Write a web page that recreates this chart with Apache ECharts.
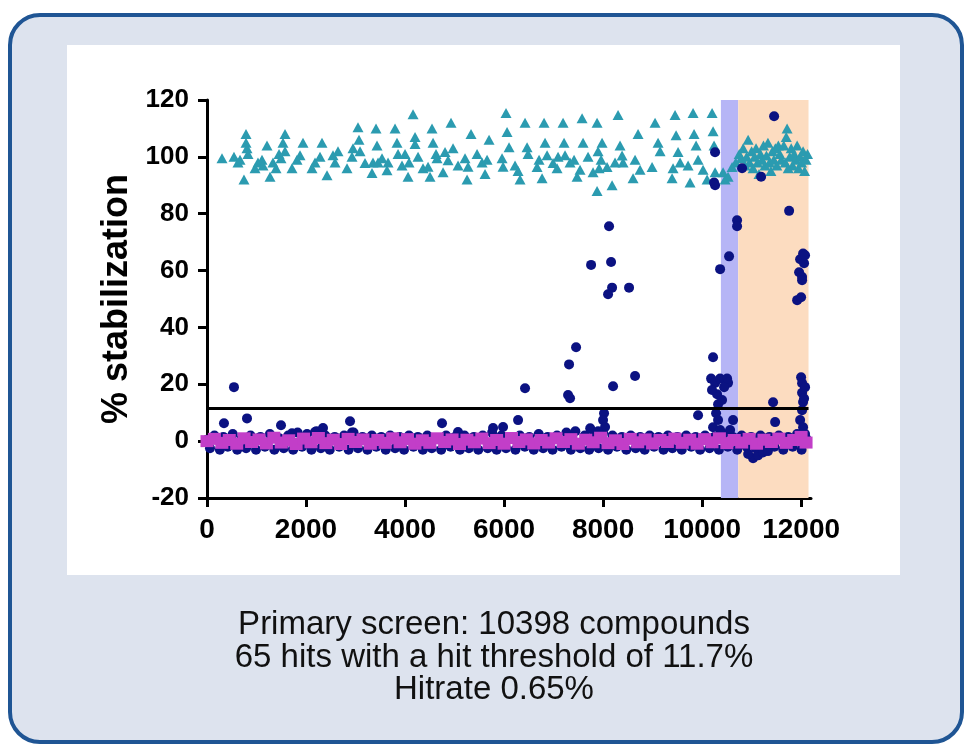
<!DOCTYPE html>
<html>
<head>
<meta charset="utf-8">
<script src="https://cdn.jsdelivr.net/npm/echarts@6/dist/echarts.min.js"></script>
<style>
  html, body { margin: 0; padding: 0; background: #ffffff; }
  #chart { width: 964px; height: 746px; }
</style>
</head>
<body>
<div id="chart"></div>
<script>
// x ticks / y range
var xTicks = [0, 2000, 4000, 6000, 8000, 10000, 12000];
var threshold = 11.7;
var blueBand = [10380, 10730];
var orangeBand = [10730, 12150];

// positive controls (~100 %)
var controls100 = [
  [303,99.5],[545,100],[626,98],[667,99],[747,92],[788,108],[788,105],[808,103],[828,101],[970,96],
  [1030,98],[1111,99],[1131,97],[1212,104],[1273,93],[1333,98],[1394,96],[1455,101],[1495,99.5],[1535,105],
  [1576,108],[1576,102],[1717,96],[1818,99],[1879,100.6],[1939,105],[2121,96],[2182,98],[2283,100],[2323,105],
  [2424,93.5],[2545,100.6],[2586,98],[2646,102],[2828,96],[2929,100],[2949,103],[3050,110.4],[3070,106],[3091,102],
  [3192,97.8],[3333,94.3],[3353,98],[3414,110],[3434,104],[3455,98],[3535,99.5],[3636,95.3],[3657,98],[3798,110],
  [3838,105],[3859,101],[3939,97],
  [4000,101],[4061,93],[4081,98],[4162,115],[4202,107],[4202,104.5],[4263,100],[4364,96],[4465,96.5],[4505,93],
  [4545,110],[4566,105],[4626,101],[4646,99.5],[4768,94.6],[4808,101.7],[4869,98.8],[4929,112],[4970,103],[5071,97],
  [5212,99.5],[5253,92],[5273,96.5],[5333,108],[5455,101],[5556,98],[5616,94],[5657,99],[5697,106],[5960,99.5],
  [5980,96.5],[6040,115.4],[6061,108.7],[6101,103.4],[6222,97],[6283,95],[6323,92],[6424,112],[6465,103.4],[6485,101],
  [6667,96.4],[6707,99],[6768,92.5],[6808,112],[6828,105],[6869,100.6],[6990,97.8],[7071,96],[7091,100],[7192,112],
  [7212,105],[7232,100.6],[7333,98],[7414,99],[7475,93],[7535,95.5],[7576,113.6],[7596,105],[7697,100],[7798,94.6],
  [7879,112],[7899,102],[7879,88],
  [7980,105],[7960,99],[7920,96],[8081,96.4],[8182,90],[8242,98],[8303,114.7],[8343,104],[8384,100.5],[8404,98],
  [8606,92.5],[8646,99],[8707,108],[8747,95.5],[8990,96.4],[9050,112],[9111,105],[9152,102],[9394,92.5],[9414,96],
  [9454,114.7],[9475,107.6],[9515,101.7],[9556,98],[9717,97],[9757,91],[9818,115.4],[9838,108],[9879,104],[9919,99],
  [10020,95.5],[10101,92],[10202,115.4],[10222,109],[10242,104],[10263,94.6],
  [10424,94.6],[10465,92],[10525,93],[10606,96.4],[10680,98],
  [10750,101],[10790,99.5],[10830,103],[10870,97],[10900,100],[10930,106],[10960,98],[11000,102],[11030,96],[11060,100],
  [11090,103],[11120,98],[11150,94],[11180,101],[11210,99],[11240,104],[11270,97],[11300,100.5],[11330,105],[11360,98],
  [11390,95],[11420,102],[11450,99],[11480,103],[11510,97],[11540,104],[11570,101],[11600,99],[11650,104],[11680,98],
  [11700,107],[11717,110],[11740,96],[11770,100],[11800,103],[11830,97],[11860,101],[11890,99],[11920,104],[11950,96],
  [11980,100],[12010,98],[12040,102],[12070,95],[12100,99],[12130,101]
];

// compounds: outliers and hits
var compoundHits = [
  [545,19],[343,6.3],[808,8],[1495,5.6],[1717,2.8],[2182,3.2],[2343,4.6],[2889,7],[2929,3],[4747,6.3],
  [5070,3.2],[5778,4.6],[5980,5],[6283,7.4],[6424,18.6],[7293,16.2],[7333,15.1],[7313,27],[7455,33],[7758,62],
  [8121,75.6],[8162,63],[8182,54],[8101,51.7],[8525,54],[8202,19.3],[8646,22.9],[8020,9.8],[8000,7.4],[8040,5],
  [7740,4.5],[7900,3.5],[9919,9.1],[11434,13.7],[11475,6.7],[11030,-6],[11130,-5],[11230,-4],[10930,-4.5],[11330,-3.5],
  [10222,29.5],[10182,22],[10263,20.5],[10364,22],[10505,22],[10525,20.5],[10303,16.5],[10323,13],[10283,9.8],[10222,4.9],
  [10364,3.9],[10566,3.9],[10626,7.4],[10323,7.4],[10404,14.5],[10200,18],[10445,19],
  [10262,101.6],[10242,91],[10263,90],[10364,60.5],[10545,65],[10707,77.7],[10707,75.6],[10808,96],[11192,93],
  [11455,114.3],[11758,81],
  [12040,66],[11980,64],[11960,59.4],[12020,57.7],[11920,49.6],[12000,50.6],[12020,56.6],[12060,62.6],[12080,65.4],
  [12000,22.5],[12020,20.4],[12020,17],[12040,13.8],[12020,10.9],[11980,7.4],[12040,4.9],[12080,2.5],[12060,15],[12080,19]
];

// compounds: inactive, near zero
var compoundBase = [
  [0,0.5],[60,-2.5],[150,2],[260,-3],[330,1.5],[420,-2],[520,2.5],[610,-3],[700,1],[790,-2.5],
  [880,2],[990,-3],[1080,1.5],[1170,-2],[1270,2.5],[1360,-3],[1460,1],[1550,-2.5],[1640,2],[1740,-3],
  [1830,3],[1920,-2],[2020,2.5],[2110,-3],[2210,3.5],[2300,-2.5],[2390,2],[2480,-3],[2580,1.5],[2670,-2],
  [2770,2],[2860,-3],[2960,3],[3050,-2.5],[3140,1.5],[3240,-3],[3330,2],[3420,-2],[3520,1.5],[3610,-3],
  [3700,2],[3800,-2.5],[3890,1.5],[3980,-3],[4080,2],[4170,-2],[4260,1.5],[4360,-3],[4450,2],[4540,-2.5],
  [4640,1],[4730,-3],[4830,2],[4920,-2],[5010,1.5],[5110,-3],[5200,2],[5290,-2.5],[5390,1.5],[5480,-3],
  [5570,2],[5670,-2.5],[5760,3],[5850,-3],[5950,2],[6040,-2.5],[6130,1.5],[6230,-3],[6320,2],[6420,-2],
  [6510,1.5],[6600,-3],[6700,2.5],[6790,-2.5],[6880,1.5],[6980,-3],[7070,2],[7160,-2],[7260,3],[7350,-3],
  [7440,3.5],[7540,-2.5],[7630,2],[7720,-3],[7820,2.5],[7910,-2.5],[8000,3],[8100,-3],[8190,2],[8280,-2],
  [8380,1.5],[8470,-3],[8560,2],[8660,-2.5],[8750,1.5],[8840,-3],[8940,2],[9030,-2],[9120,1.5],[9220,-3],
  [9310,2],[9400,-2.5],[9500,1.5],[9590,-3],[9680,2],[9780,-2],[9870,1.5],[9960,-3],[10060,2],[10150,-2.5],
  [10250,1.5],[10340,-3],[10430,2.5],[10520,-2],[10620,1.5],[10710,-3],[10800,2],[10900,-2],[10990,1.5],[11080,-2.5],
  [11180,2],[11270,-3],[11360,1.5],[11460,-2],[11550,2],[11640,-3],[11740,1.5],[11830,-2],[11920,2.5],[12010,-3],
  [12100,1]
];

// negative controls (~0 %)
var controls0 = [
  [0,0],[150,0.8],[300,-0.6],[450,0.4],[600,-0.9],[750,1],[900,-0.3],[1050,0.6],[1200,-0.8],[1350,1.2],
  [1500,-0.5],[1650,0.3],[1800,-1],[1950,0.9],[2100,-0.4],[2250,1.1],[2400,-0.7],[2550,0.5],[2700,-1],[2850,0.8],
  [3000,-0.3],[3150,0.6],[3300,-0.9],[3450,0.4],[3600,-0.6],[3750,1],[3900,-0.4],[4050,0.7],[4200,-0.9],[4350,0.3],
  [4500,-0.6],[4650,1],[4800,-0.3],[4950,0.6],[5100,-1],[5250,0.5],[5400,-0.4],[5550,0.9],[5700,-0.7],[5850,0.4],
  [6000,-0.9],[6150,1.1],[6300,-0.3],[6450,0.6],[6600,-0.8],[6750,0.4],[6900,-0.5],[7050,1],[7200,-0.3],[7350,0.7],
  [7500,-0.9],[7650,0.5],[7800,-0.4],[7950,1.2],[8100,-0.7],[8250,0.3],[8400,-1],[8550,0.8],[8700,-0.4],[8850,0.6],
  [9000,-0.8],[9150,0.4],[9300,-0.3],[9450,0.9],[9600,-0.6],[9750,0.5],[9900,-0.9],[10050,0.7],[10200,-0.4],[10350,1],
  [10500,-0.7],[10650,0.4],[10800,-0.5],[10950,0.8],[11100,-0.9],[11250,0.5],[11400,-0.3],[11550,0.9],[11700,-0.6],[11850,0.4],
  [12000,1.5],[12100,-0.5]
];

var captionLines = [
  'Primary screen: 10398 compounds',
  '65 hits with a hit threshold of 11.7%',
  'Hitrate 0.65%'
];

var font = "'Liberation Sans', Arial, sans-serif";
var myChart = echarts.init(document.getElementById('chart'));

var captions = captionLines.map(function (t, i) {
  return {
    type: 'text',
    x: 494,
    y: 625 + i * 32.5,
    z: 5,
    style: {
      text: t,
      font: '33px ' + font,
      fill: '#111111',
      align: 'center',
      verticalAlign: 'middle'
    }
  };
});

var option = {
  animation: false,
  backgroundColor: '#ffffff',
  graphic: [
    {
      type: 'rect',
      z: -10,
      shape: { x: 10, y: 15, width: 952, height: 727, r: 30 },
      style: { fill: '#dde3ee', stroke: '#1f5594', lineWidth: 4 }
    },
    {
      type: 'rect',
      z: -9,
      shape: { x: 67, y: 45, width: 833, height: 530 },
      style: { fill: '#ffffff' }
    }
  ].concat(captions),
  grid: {
    left: 207,
    top: 100,
    right: 153,
    bottom: 248
  },
  xAxis: {
    type: 'value',
    min: 0,
    max: 12200,
    splitLine: { show: false },
    axisLine: { show: true, onZero: false, lineStyle: { color: '#000', width: 3 } },
    axisTick: { show: true, customValues: xTicks, length: 9, lineStyle: { color: '#000', width: 3 } },
    axisLabel: {
      customValues: xTicks,
      formatter: function (v) { return String(v); },
      color: '#000',
      fontSize: 28,
      fontWeight: 'bold',
      fontFamily: font,
      margin: 18
    }
  },
  yAxis: {
    type: 'value',
    min: -20,
    max: 120,
    interval: 20,
    name: '% stabilization',
    nameLocation: 'middle',
    nameGap: 68,
    nameTextStyle: { color: '#000', fontSize: 36, fontWeight: 'bold', fontFamily: font },
    splitLine: { show: false },
    axisLine: { show: true, onZero: false, lineStyle: { color: '#000', width: 3 } },
    axisTick: { show: true, length: 9, lineStyle: { color: '#000', width: 3 } },
    axisLabel: {
      color: '#000',
      fontSize: 26,
      fontWeight: 'bold',
      fontFamily: font,
      margin: 18
    }
  },
  series: [
    {
      name: 'bands',
      type: 'scatter',
      z: 1,
      data: [],
      silent: true,
      markArea: {
        silent: true,
        data: [
          [{ xAxis: blueBand[0], itemStyle: { color: '#b6b5f6', opacity: 1 } }, { xAxis: blueBand[1] }],
          [{ xAxis: orangeBand[0], itemStyle: { color: '#fcdcc0', opacity: 1 } }, { xAxis: orangeBand[1] }]
        ]
      }
    },
    {
      name: 'threshold',
      type: 'scatter',
      z: 6,
      data: [],
      silent: true,
      markLine: {
        silent: true,
        symbol: ['none', 'none'],
        label: { show: false },
        lineStyle: { color: '#000', width: 3, type: 'solid' },
        data: [[{ coord: [0, threshold] }, { coord: [orangeBand[1], threshold] }]]
      }
    },
    {
      name: 'positive controls',
      type: 'scatter',
      z: 2,
      symbol: 'triangle',
      symbolSize: [11, 10],
      itemStyle: { color: '#2b9bb0', opacity: 1 },
      data: controls100
    },
    {
      name: 'compounds',
      type: 'scatter',
      z: 3,
      symbol: 'circle',
      symbolSize: 10,
      itemStyle: { color: '#0b1282', opacity: 1 },
      data: compoundBase.concat(compoundHits)
    },
    {
      name: 'negative controls',
      type: 'scatter',
      z: 4,
      symbol: 'rect',
      symbolSize: [13, 12],
      itemStyle: { color: '#c23ec8', opacity: 1 },
      data: controls0
    }
  ]
};

myChart.setOption(option);
window.addEventListener('resize', function () {
  myChart.resize();
});
</script>
</body>
</html>
